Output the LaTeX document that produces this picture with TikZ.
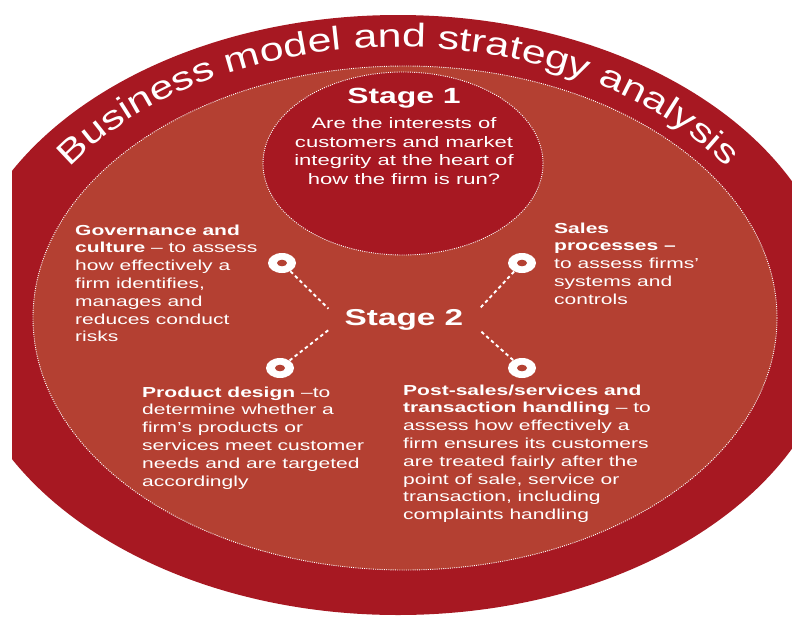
\documentclass[tikz,border=0pt]{standalone}
\usepackage{fontspec}
\setmainfont{Liberation Sans}[FakeStretch=1.45]
\newfontfamily\bandfont{Liberation Sans}[FakeStretch=1.3]
\usepackage{tikz}
\usetikzlibrary{shapes.geometric, positioning, decorations.text}
\definecolor{bandred}{RGB}{167,24,34}
\definecolor{brick}{RGB}{180,64,50}
\tikzstyle{field} = [fill=brick, draw=white, line width=0.9pt, dash pattern=on 1pt off 1.2pt]
\tikzstyle{stageone} = [ellipse, fill=bandred, draw=white, line width=0.9pt,
dash pattern=on 1pt off 1.2pt, minimum width=280, minimum height=183, inner sep=0]
\tikzstyle{arctext} = [decorate, decoration={text along path, text align=center,
text color=white, text={|\bandfont\fontsize{33}{36}\selectfont|Business model and strategy analysis}}]
\tikzstyle{heading} = [text=white, inner sep=0, font=\bfseries\fontsize{22}{26}\selectfont]
\tikzstyle{question} = [text=white, inner sep=0, align=center, font=\fontsize{15.2}{18.6}\selectfont]
\tikzstyle{blurb} = [text=white, inner sep=0, align=left, anchor=north west,
font=\fontsize{14.5}{17.8}\selectfont]
\tikzstyle{ring} = [ellipse, fill=white, minimum width=28, minimum height=20, inner sep=0,
path picture={\fill[brick] (path picture bounding box.center) ellipse [x radius=5, y radius=3.3];}]
\tikzstyle{link} = [white, line width=1.9pt, dash pattern=on 3.5pt off 3pt]

\begin{document}
\begin{tikzpicture}[x=1pt, y=-1pt]

  % \draw[help lines, step=50] (0,0) grid (792,619);
  \useasboundingbox (0,0) rectangle (792,619);

  % outer band, cut off at the left margin and the right edge
  \begin{scope}
    \clip (12,0) rectangle (792,619);
    \fill [bandred] (398,315) ellipse [x radius=440, y radius=300];
  \end{scope}

  \draw [field] (405,318) ellipse [x radius=372, y radius=252];

  \coordinate (TS) at (28.7,223.3);
  \path [arctext] (TS) arc [start angle=200, end angle=340, x radius=393, y radius=268];

  \node (ST1) [stageone] at (403,163.5) {};
  \node (S1) [heading, anchor=base] at (404,103) {Stage 1};
  \node (Q1) [question, below=9.4pt of S1] {Are the interests of\\ customers and market\\
    integrity at the heart of\\ how the firm is run?};

  \node (S2) [heading, inner xsep=16pt, font=\bfseries\fontsize{23}{27}\selectfont,
    anchor=base] at (404,325) {Stage 2};

  \node (RG) [ring] at (282,263) {};
  \node (RS) [ring] at (522,263) {};
  \node (RP) [ring] at (280,368) {};
  \node (RT) [ring] at (522,368) {};

  \draw [link] (RG) -- (S2.north west);
  \draw [link] (RS) -- (S2.north east);
  \draw [link] (RP) -- (S2.south west);
  \draw [link] (RT) -- (S2.south east);

  \node (GC) [blurb] at (75,224.4) {\textbf{Governance and}\\ \textbf{culture} -- to assess\\
    how effectively a\\ firm identifies,\\ manages and\\ reduces conduct\\ risks};
  \node (SP) [blurb] at (554,222.4) {\textbf{Sales}\\ \textbf{processes --}\\
    to assess firms'\\ systems and\\ controls};
  \node (PD) [blurb] at (142,386.4) {\textbf{Product design} --to\\ determine whether a\\
    firm's products or\\ services meet customer\\ needs and are targeted\\ accordingly};
  \node (PS) [blurb] at (403,384.4) {\textbf{Post-sales/services and}\\
    \textbf{transaction handling} -- to\\ assess how effectively a\\
    firm ensures its customers\\ are treated fairly after the\\ point of sale, service or\\
    transaction, including\\ complaints handling};

\end{tikzpicture}
\end{document}
